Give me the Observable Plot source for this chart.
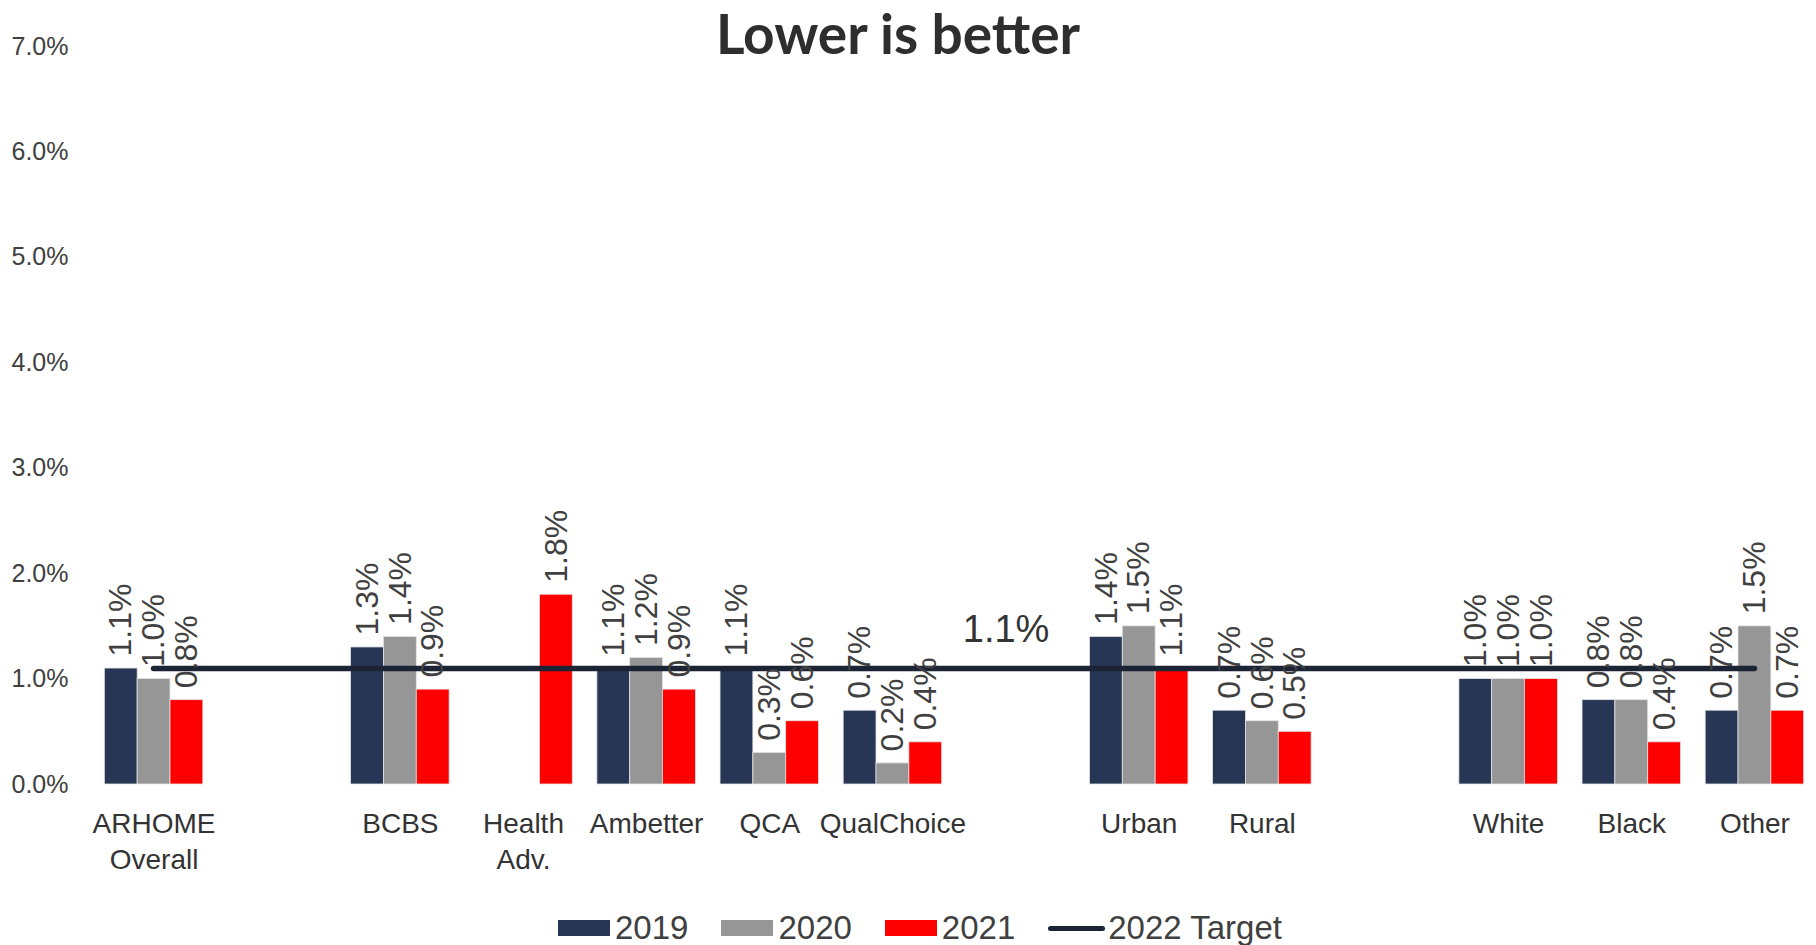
<!DOCTYPE html>
<html>
<head>
<meta charset="utf-8">
<script src="https://cdn.jsdelivr.net/npm/d3@7"></script>
<script src="https://cdn.jsdelivr.net/npm/@observablehq/plot@0.6"></script>
<style>
  body { margin: 0; background: #fff; }
  #wrap { position: relative; width: 1816px; height: 945px; overflow: hidden; font-family: "Liberation Sans", Arial, sans-serif; }
  #chart { position: absolute; left: 0; top: 0; }
  #title { position: absolute; left: 0; width: 1796px; top: 0px; text-align: center; font-family: "Lato", sans-serif; font-weight: 700; font-size: 55px; line-height: 66px; color: #2e2e2e; }
  #legend { position: absolute; left: 558px; top: 914px; height: 28px; display: flex; align-items: center; font-size: 33px; line-height: 28px; color: #404040; }
  .item { display: flex; align-items: center; margin-right: 33px; }
  .sw { width: 52px; height: 16px; margin-right: 5px; }
  .ln { width: 57px; height: 5px; border-radius: 3px; margin-right: 3px; }
</style>
</head>
<body>
<div id="wrap">
  <div id="chart"></div>
  <div id="title">Lower is better</div>
  <div id="legend"></div>
</div>
<script>
// ---- data ----
const categories = ["ARHOME\nOverall", "", "BCBS", "Health\nAdv.", "Ambetter", "QCA", "QualChoice", "", "Urban", "Rural", "", "White", "Black", "Other"];
const years = ["2019", "2020", "2021"];
const values2019 = [0.011, null, 0.013, null, 0.011, 0.011, 0.007, null, 0.014, 0.007, null, 0.010, 0.008, 0.007];
const values2020 = [0.010, null, 0.014, null, 0.012, 0.003, 0.002, null, 0.015, 0.006, null, 0.010, 0.008, 0.015];
const values2021 = [0.008, null, 0.009, 0.018, 0.009, 0.006, 0.004, null, 0.011, 0.005, null, 0.010, 0.004, 0.007];
const target2022 = 0.011;
const targetLabel = "2022 Target";
const yTicks = [0, 0.01, 0.02, 0.03, 0.04, 0.05, 0.06, 0.07];
const colors = ["#263654", "#969696", "#ff0000"];
const targetColor = "#1b2335";

// ---- build rows ----
const series = [values2019, values2020, values2021];
const groupW = 0.8, barW = groupW / years.length;
const rows = [];
series.forEach((vals, j) => {
  vals.forEach((v, i) => {
    if (v == null) return;
    const x1 = i - groupW / 2 + j * barW;
    rows.push({i, year: years[j], value: v, x1, x2: x1 + barW, xc: x1 + barW / 2});
  });
});
const tickIdx = categories.map((c, i) => c ? i : null).filter(i => i != null);
const firstIdx = tickIdx[0], lastIdx = tickIdx[tickIdx.length - 1];
const labelSlot = categories.indexOf("QualChoice") + 1;
const pct = d3.format(".1%");

const chart = Plot.plot({
  width: 1816,
  height: 905,
  marginLeft: 92,
  marginRight: 0,
  marginTop: 46,
  marginBottom: 121,
  style: {fontFamily: "'Liberation Sans', Arial, sans-serif", color: "#404040", background: "white", overflow: "visible"},
  x: {domain: [-0.5, categories.length - 0.5]},
  y: {domain: [0, 0.07]},
  color: {domain: years, range: colors},
  marks: [
    Plot.rect(rows, {x1: "x1", x2: "x2", y1: 0, y2: "value", fill: "year", stroke: "#e3e3e3", strokeWidth: 0.8}),
    Plot.ruleY([{y: target2022, a: firstIdx, b: lastIdx}], {y: "y", x1: "a", x2: "b", stroke: targetColor, strokeWidth: 5.5, strokeLinecap: "round"}),
    Plot.text(rows, {x: "xc", y: "value", text: d => pct(d.value), rotate: -90, textAnchor: "start", lineAnchor: "middle", dy: -12, fontSize: 32, fill: "#404040"}),
    Plot.text([{x: labelSlot, y: target2022}], {x: "x", y: "y", text: d => pct(d.y), fontSize: 38, fill: "#333", dx: -10, dy: -39}),
    Plot.axisY({ticks: yTicks, tickFormat: ".1%", tickSize: 0, tickPadding: 24, fontSize: 25, label: null}),
    Plot.axisX({ticks: tickIdx, tickFormat: i => categories[i], tickSize: 0, tickPadding: 23, fontSize: 28, lineHeight: 1.29, label: null, fill: "#333"})
  ]
});
document.getElementById("chart").appendChild(chart);

// ---- legend ----
const legend = document.getElementById("legend");
years.forEach((y, j) => {
  const it = document.createElement("div");
  it.className = "item";
  it.innerHTML = `<div class="sw" style="background:${colors[j]}"></div><span>${y}</span>`;
  legend.appendChild(it);
});
const it = document.createElement("div");
it.className = "item";
it.innerHTML = `<div class="ln" style="background:${targetColor}"></div><span>${targetLabel}</span>`;
legend.appendChild(it);
</script>
</body>
</html>
